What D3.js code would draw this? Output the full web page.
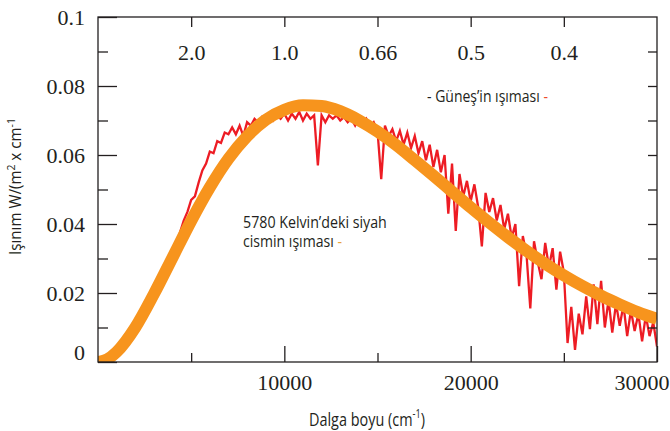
<!DOCTYPE html>
<html>
<head>
<meta charset="utf-8">
<script src="https://cdn.jsdelivr.net/npm/d3@7"></script>
<style>
  body { margin: 0; background: #fff; }
  svg { display: block; }
</style>
</head>
<body>
<div id="chart"></div>
<script>
// Blackbody curve at 5780 K (wavenumber in cm-1, radiance)
var bbWavenumber = [0, 500, 1000, 2000, 3000, 4000, 5000, 6000, 7000, 8000, 9000, 10000,
    11000, 12000, 13000, 14000, 15000, 16000, 17000, 18000, 19000, 20000,
    21000, 22000, 23000, 24000, 25000, 26000, 27000, 28000, 29000, 30000];
var bbValues = [0, 0.0008, 0.0029, 0.0100, 0.0197, 0.0303, 0.0409, 0.0506, 0.0589, 0.0654, 0.0702, 0.0731,
    0.0744, 0.0742, 0.0727, 0.0701, 0.0668, 0.0629, 0.0585, 0.0540, 0.0494, 0.0448,
    0.0404, 0.0362, 0.0322, 0.0285, 0.0251, 0.0220, 0.0192, 0.0167, 0.0144, 0.0125];

// Measured solar spectrum, sampled every 200 cm-1 from 3000 cm-1
var sunStart = 3000, sunStep = 200;
var sunValues = [
    0.0198, 0.0218, 0.0239, 0.0260, 0.0283, 0.0312, 0.0345, 0.0375, 0.0410, 0.0435,
    0.0470, 0.0480, 0.0520, 0.0555, 0.0575, 0.0610, 0.0605, 0.0640, 0.0635, 0.0665,
    0.0660, 0.0680, 0.0660, 0.0685, 0.0655, 0.0695, 0.0685, 0.0705, 0.0695, 0.0710,
    0.0700, 0.0715, 0.0700, 0.0715, 0.0705, 0.0720, 0.0700, 0.0720, 0.0705, 0.0725,
    0.0700, 0.0720, 0.0705, 0.0715, 0.0570, 0.0715, 0.0695, 0.0715, 0.0705, 0.0715,
    0.0700, 0.0710, 0.0695, 0.0705, 0.0685, 0.0705, 0.0690, 0.0705, 0.0680, 0.0695,
    0.0670, 0.0530, 0.0685, 0.0655, 0.0675, 0.0640, 0.0670, 0.0630, 0.0665, 0.0620,
    0.0655, 0.0605, 0.0640, 0.0585, 0.0630, 0.0565, 0.0615, 0.0550, 0.0600, 0.0430,
    0.0575, 0.0380, 0.0545, 0.0480, 0.0525, 0.0465, 0.0515, 0.0450, 0.0335, 0.0490,
    0.0435, 0.0475, 0.0410, 0.0455, 0.0385, 0.0430, 0.0360, 0.0400, 0.0220, 0.0365,
    0.0310, 0.0155, 0.0350, 0.0290, 0.0240, 0.0345, 0.0275, 0.0330, 0.0210, 0.0320,
    0.0260, 0.0055, 0.0160, 0.0035, 0.0140, 0.0080, 0.0190, 0.0095, 0.0225, 0.0110,
    0.0235, 0.0100, 0.0180, 0.0085, 0.0170, 0.0105, 0.0165, 0.0075, 0.0150, 0.0090,
    0.0140, 0.0060, 0.0135, 0.0075, 0.0115, 0.0045
];

// Axis ticks and labels
var yMajor = [0, 0.02, 0.04, 0.06, 0.08, 0.1];
var yLabels = ["0", "0.02", "0.04", "0.06", "0.08", "0.1"];
var yMinor = [0.01, 0.03, 0.05, 0.07, 0.09];
var xMajor = [10000, 20000, 30000];
var xLabels = ["10000", "20000", "30000"];
var xMinor = [5000, 15000, 25000];
var topTicks = [5000, 10000, 15000, 20000, 25000];
var topLabels = ["2.0", "1.0", "0.66", "0.5", "0.4"];

var W = 670, H = 431;
var margin = { top: 17, right: 13, bottom: 69, left: 98 };
var width = W - margin.left - margin.right;
var height = H - margin.top - margin.bottom;

var RED = "#ed1c24", ORANGE = "#f7941d", INK = "#231f20";
var SERIF = "'Liberation Serif', 'Times New Roman', serif";
var SANS = "'Open Sans', 'Noto Sans', sans-serif";

var svg = d3.select("#chart").append("svg")
    .attr("width", W)
    .attr("height", H);

var g = svg.append("g").attr("transform", "translate(" + margin.left + "," + margin.top + ")");

var x = d3.scaleLinear().domain([0, 30000]).range([0, width]);
var y = d3.scaleLinear().domain([0, 0.1]).range([height, 0]);

svg.append("defs").append("clipPath").attr("id", "plot")
    .append("rect").attr("width", width).attr("height", height);

var sun = sunValues.map(function (v, i) { return [sunStart + i * sunStep, v]; });
var bb = bbWavenumber.map(function (k, i) { return [k, bbValues[i]]; });

var plot = g.append("g").attr("clip-path", "url(#plot)");

plot.append("path")
    .datum(sun)
    .attr("fill", "none")
    .attr("stroke", RED)
    .attr("stroke-width", 2.3)
    .attr("d", d3.line().x(function (d) { return x(d[0]); }).y(function (d) { return y(d[1]); }));

plot.append("path")
    .datum(bb)
    .attr("fill", "none")
    .attr("stroke", ORANGE)
    .attr("stroke-width", 12)
    .attr("stroke-linejoin", "round")
    .attr("d", d3.line().curve(d3.curveMonotoneX)
        .x(function (d) { return x(d[0]); }).y(function (d) { return y(d[1]); }));

function styleAxis(sel) {
    sel.select(".domain").remove();
    sel.attr("font-family", SERIF).attr("font-size", 22);
    sel.selectAll("line").attr("stroke", INK).attr("stroke-width", 1.3);
    sel.selectAll("text").attr("fill", INK);
}

// left
g.append("g")
    .call(d3.axisLeft(y).tickValues(yMajor).tickSize(-19).tickPadding(13)
        .tickFormat(function (d, i) { return yLabels[i]; }))
    .call(styleAxis)
    .selectAll("text").attr("y", function (d) { return d === 0 ? -10 : 0; });
g.append("g")
    .call(d3.axisLeft(y).tickValues(yMinor).tickSize(-10).tickFormat(""))
    .call(styleAxis);

// right
g.append("g").attr("transform", "translate(" + width + ",0)")
    .call(d3.axisRight(y).tickValues(yMinor.concat([0.02, 0.04, 0.06, 0.08])).tickSize(-9).tickFormat(""))
    .call(styleAxis);

// bottom
g.append("g").attr("transform", "translate(0," + height + ")")
    .call(d3.axisBottom(x).tickValues(xMajor).tickSize(-16).tickPadding(12)
        .tickFormat(function (d, i) { return xLabels[i]; }))
    .call(styleAxis)
    .selectAll("text")
    .attr("text-anchor", function (d) { return d === 30000 ? "end" : "middle"; })
    .attr("x", function (d) { return d === 30000 ? 12 : 0; });
g.append("g").attr("transform", "translate(0," + height + ")")
    .call(d3.axisBottom(x).tickValues(xMinor).tickSize(-9).tickFormat(""))
    .call(styleAxis);

// top (wavelength in micrometres)
g.append("g")
    .call(d3.axisTop(x).tickValues(topTicks).tickSize(-10)
        .tickFormat(function (d, i) { return topLabels[i]; }))
    .call(styleAxis)
    .selectAll("text").attr("y", 43).attr("dy", 0);

// frame
g.append("rect")
    .attr("width", width).attr("height", height)
    .attr("fill", "none").attr("stroke", INK).attr("stroke-width", 1.3);

// condensed-looking label: draw at natural width, then squeeze horizontally to fit
function label(px, py, rot, size, fit, build) {
    var holder = svg.append("g");
    var t = holder.append("text")
        .attr("font-family", SANS).attr("font-size", size).attr("fill", INK);
    build(t);
    var natural = t.node().getComputedTextLength();
    var sx = fit / natural;
    holder.attr("transform", "translate(" + px + "," + py + ")" +
        (rot ? " rotate(" + rot + ")" : "") + " scale(" + sx + ",1)");
    return t;
}

// axis titles
label(21, 255, -90, 16, 137, function (t) {
    t.append("tspan").text("Işınım W/(m");
    t.append("tspan").attr("font-size", 11).attr("dy", -6).text("2");
    t.append("tspan").attr("dy", 6).text(" x cm");
    t.append("tspan").attr("font-size", 11).attr("dy", -6).text("-1");
});

label(309, 426, 0, 19, 116, function (t) {
    t.append("tspan").text("Dalga boyu (cm");
    t.append("tspan").attr("font-size", 12).attr("dy", -8).text("-1");
    t.append("tspan").attr("dy", 8).text(")");
});

// annotations
label(427, 102, 0, 17, 121, function (t) {
    t.append("tspan").text("- Güneş’in ışıması ");
    t.append("tspan").attr("fill", "#ef4a2c").text("-");
});

label(243, 228, 0, 17, 144, function (t) {
    t.text("5780 Kelvin’deki siyah");
});

label(243, 247, 0, 17, 99, function (t) {
    t.append("tspan").text("cismin ışıması ");
    t.append("tspan").attr("fill", "#e9a23b").text("-");
});
</script>
</body>
</html>
